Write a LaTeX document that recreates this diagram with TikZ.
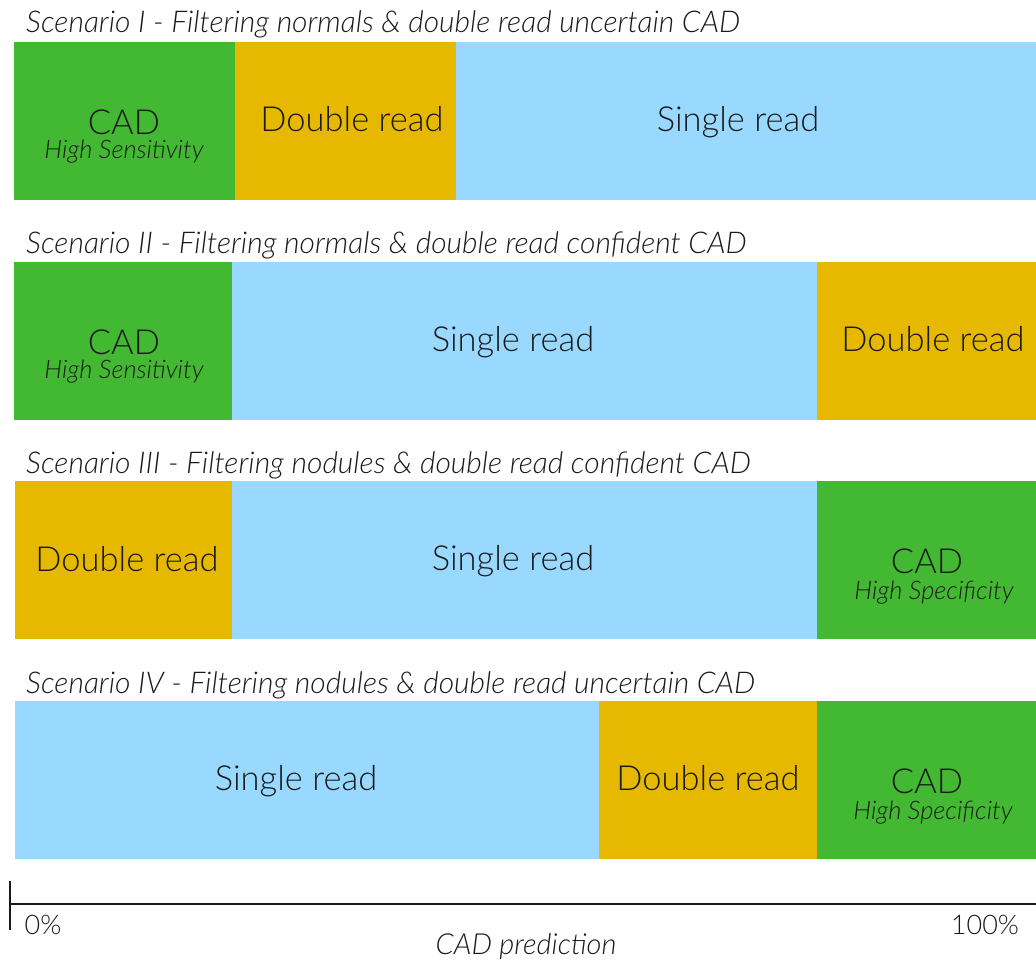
\documentclass[tikz,border=0pt]{standalone}
\usepackage{fontspec}
\setmainfont{Lato}[UprightFont={* Light}, ItalicFont={* Light Italic}]
\definecolor{cadgreen}{RGB}{67,185,51}
\definecolor{dblyellow}{RGB}{230,185,0}
\definecolor{snglblue}{RGB}{153,217,255}
\definecolor{ink}{RGB}{26,26,26}
\tikzset{
  title/.style={anchor=base west, inner sep=0pt, text=ink, font=\fontsize{30}{34}\selectfont\itshape},
  big/.style={inner sep=0pt, text=ink, font=\fontsize{34.5}{38}\selectfont},
  sub/.style={inner sep=0pt, text=ink, font=\fontsize{25.5}{29}\selectfont\itshape},
  axislbl/.style={inner sep=0pt, text=ink, font=\fontsize{27}{31}\selectfont},
}
\begin{document}
\begin{tikzpicture}[x=1pt, y=-1pt]
\useasboundingbox (0,0) rectangle (1036,960);

% Scenario I
\node[title] (t1) at (26,33) {Scenario I - Filtering normals \& double read uncertain CAD};
\fill[cadgreen]  (14,42)  rectangle (235,200);
\fill[dblyellow] (235,42) rectangle (456,200);
\fill[snglblue]  (456,42) rectangle (1036,200);
\node[big] (c1) at (124,122) {CAD};
\node[sub] (s1) at (124,152) {High Sensitivity};
\node[big] (d1) at (352,119) {Double read};
\node[big] (r1) at (738,122) {Single read};

% Scenario II
\node[title] (t2) at (26,253) {Scenario II - Filtering normals \& double read confident CAD};
\fill[cadgreen]  (14,262)  rectangle (232,420);
\fill[snglblue]  (232,262) rectangle (817,420);
\fill[dblyellow] (817,262) rectangle (1036,420);
\node[big] (c2) at (124,342) {CAD};
\node[sub] (s2) at (124,372) {High Sensitivity};
\node[big] (r2) at (513,342) {Single read};
\node[big] (d2) at (933,339) {Double read};

% Scenario III
\node[title] (t3) at (26,473) {Scenario III - Filtering nodules \& double read confident CAD};
\fill[dblyellow] (15,481)  rectangle (232,639);
\fill[snglblue]  (232,481) rectangle (817,639);
\fill[cadgreen]  (817,481) rectangle (1036,639);
\node[big] (d3) at (127,559) {Double read};
\node[big] (r3) at (513,561) {Single read};
\node[big] (c3) at (927,561) {CAD};
\node[sub] (s3) at (934,593) {High Specificity};

% Scenario IV
\node[title] (t4) at (26,693) {Scenario IV - Filtering nodules \& double read uncertain CAD};
\fill[snglblue]  (15,701)  rectangle (599,859);
\fill[dblyellow] (599,701) rectangle (817,859);
\fill[cadgreen]  (817,701) rectangle (1036,859);
\node[big] (r4) at (296,781) {Single read};
\node[big] (d4) at (708,778) {Double read};
\node[big] (c4) at (927,781) {CAD};
\node[sub] (s4) at (933,813) {High Specificity};

% Axis
\coordinate (a0) at (10,904);
\coordinate (a1) at (1036,904);
\coordinate (tk0) at (10,881);
\coordinate (tk1) at (10,930);
\draw[ink, line width=2pt] (tk0) -- (tk1);
\draw[ink, line width=1.6pt] (a0) -- (a1);
\node[axislbl] (p0) at (43,925) {0\%};
\node[axislbl] (p1) at (985,925) {100\%};
\node[axislbl, font=\fontsize{29}{33}\selectfont\itshape] (xl) at (526,946) {CAD prediction};
\end{tikzpicture}
\end{document}
